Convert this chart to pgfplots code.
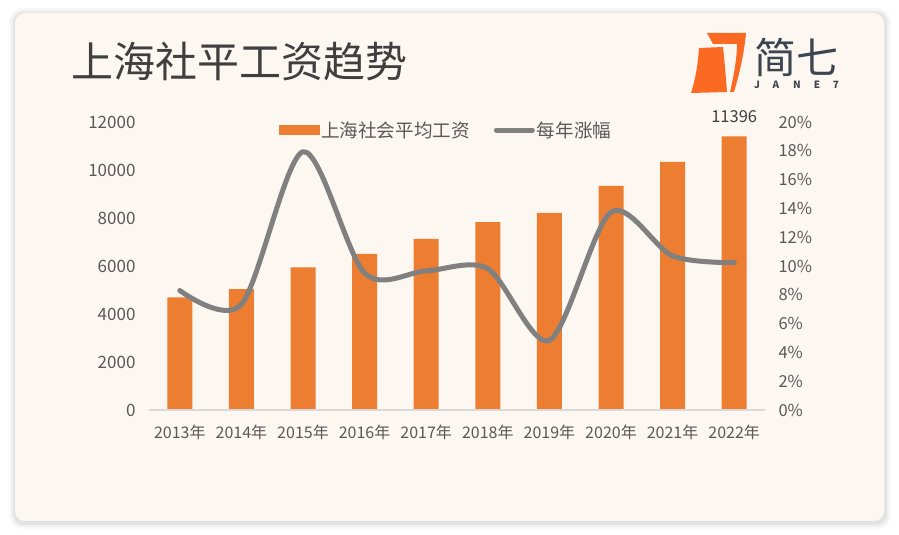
\documentclass[border=0pt]{standalone}
\usepackage{fontspec}
\setmainfont{Noto Sans CJK SC}
\usepackage{pgfplots}
\pgfplotsset{compat=1.18}
\definecolor{barc}{HTML}{ED7D31}
\definecolor{lnc}{HTML}{808080}
\definecolor{card}{HTML}{FDF7F1}
\definecolor{txt}{HTML}{595959}
\definecolor{ttl}{HTML}{3F3F3F}
\definecolor{logoO}{HTML}{FA6A22}
\definecolor{logoT}{HTML}{3D4650}
\definecolor{axl}{HTML}{D9D9D9}

\pgfplotstableread{
x wage pct
0 4692 8.30
1 5036 7.33
2 5939 17.93
3 6504 9.51
4 7132 9.66
5 7832 9.81
6 8211 4.84
7 9339 13.74
8 10338 10.70
9 11396 10.23
}\datatable

\begin{document}
\begin{tikzpicture}
\begin{scope}[x=1pt,y=1pt]
\path[use as bounding box] (0,0) rectangle (899,535);
\fill[white] (0,0) rectangle (899,535);
% card shadow
\fill[black,opacity=0.025,rounded corners=14pt] (9,6) rectangle (891,527);
\fill[black,opacity=0.035,rounded corners=12pt] (11,8) rectangle (889,525);
\fill[black,opacity=0.05,rounded corners=11pt] (13,10) rectangle (887,523);
\fill[card, rounded corners=10pt] (15,14) rectangle (884,522);
% title
\node[anchor=west, inner sep=0, text=ttl, font=\fontsize{42}{50}\selectfont] at (71,473) {上海社平工资趋势};
% logo
\fill[logoO] (707,502) -- (746,502) .. controls (744,480) and (739,460) .. (734,443) -- (730,443) .. controls (734,460) and (737,478) .. (737,491) -- (713,491) -- cycle;
\fill[logoO] (699,487) -- (723,488) .. controls (725,470) and (726,455) .. (727,443) -- (691,442) .. controls (696,458) and (698,472) .. (699,487) -- cycle;
\node[anchor=west, inner sep=0, text=logoT, font=\fontsize{42}{50}\selectfont] at (754,478) {简七};
\foreach \xx/\ch in {757/J,776/A,797/N,817/E,836/7} {
  \node[inner sep=0, text=logoT, font=\fontsize{10}{12}\selectfont\bfseries] at (\xx,450) {\ch};
}
\end{scope}

\begin{axis}[
  at={(149pt,125pt)}, anchor=south west, scale only axis,
  width=616pt, height=288pt,
  xmin=-0.5, xmax=9.5, ymin=0, ymax=12000,
  axis y line*=left, axis x line*=bottom,
  axis line style={draw=none},
  major tick length=0pt,
  ytick={0,2000,...,12000},
  scaled y ticks=false,
  xtick={0,...,9},
  xticklabels={2013年,2014年,2015年,2016年,2017年,2018年,2019年,2020年,2021年,2022年},
  /pgf/number format/1000 sep={},
  /pgf/number format/assume math mode=true,
  ticklabel style={font=\fontsize{16}{19}\selectfont, text=txt},
  yticklabel style={font=\fontsize{17}{20}\selectfont, xshift=-10pt},
  xticklabel style={yshift=-11pt},
  ybar, bar width=25pt,
  clip=false,
]
\addplot[fill=barc, draw=none] table[x=x, y=wage] {\datatable};
\draw[axl, line width=1.5pt] (rel axis cs:0,0) -- (rel axis cs:1,0);
\node[anchor=south, inner sep=0, text=ttl, font=\fontsize{16.5}{19}\selectfont] at (axis cs:9,11396) [yshift=14pt] {11396};
\end{axis}

\begin{axis}[
  at={(149pt,125pt)}, anchor=south west, scale only axis,
  width=616pt, height=288pt,
  xmin=-0.5, xmax=9.5, ymin=0, ymax=20,
  axis y line*=right, axis x line=none,
  axis line style={draw=none},
  major tick length=0pt,
  ytick={0,2,...,20},
  yticklabel={\pgfmathprintnumber{\tick}\%},
  /pgf/number format/assume math mode=true,
  ticklabel style={font=\fontsize{16.5}{19}\selectfont, text=txt},
  yticklabel style={xshift=10pt},
  legend style={at={(0.482,0.972)}, anchor=center, draw=none, fill=none,
    legend columns=2, font=\fontsize{18.6}{21}\selectfont, text=txt,
    /tikz/every even column/.append style={column sep=22pt}},
  legend cell align=left,
  clip=false,
]
\addlegendimage{legend image code/.code={\fill[barc] (0pt,-4.5pt) rectangle (40pt,4.5pt);}}
\addlegendentry{上海社会平均工资}
\addplot[lnc, line width=5pt, smooth, line cap=round,
  legend image code/.code={\draw[lnc, line width=5pt, line cap=round] (2pt,0pt) -- (38pt,0pt);}]
  table[x=x, y=pct] {\datatable};
\addlegendentry{每年涨幅}
\end{axis}
\end{tikzpicture}
\end{document}
